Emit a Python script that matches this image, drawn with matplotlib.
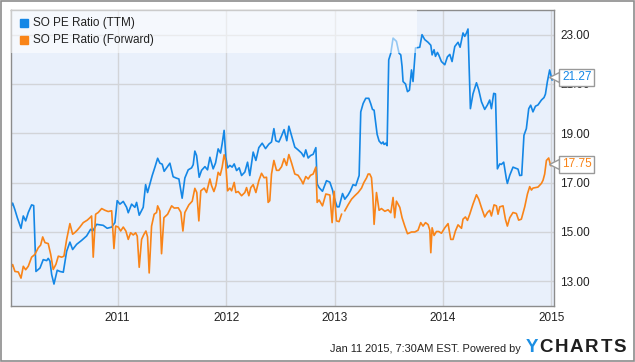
import matplotlib
matplotlib.use("Agg")
import matplotlib.pyplot as plt
import numpy as np
from matplotlib.patches import Rectangle
import matplotlib.transforms as mtransforms

plt.rcParams['font.family'] = ['Liberation Sans', 'DejaVu Sans']

# SO PE Ratio (TTM): decimal year, value
ttm_x = [2010.014, 2010.032, 2010.053, 2010.075, 2010.109, 2010.130, 2010.152, 2010.176, 2010.207, 2010.226,
         2010.247, 2010.284, 2010.314, 2010.346, 2010.360, 2010.376, 2010.392, 2010.413, 2010.443, 2010.468,
         2010.499, 2010.530, 2010.560, 2010.585, 2010.622, 2010.668, 2010.714, 2010.751, 2010.770, 2010.806,
         2010.837, 2010.867, 2010.904, 2010.945, 2010.975, 2010.996, 2011.021, 2011.052, 2011.083, 2011.098,
         2011.129, 2011.159, 2011.175, 2011.199, 2011.236, 2011.258, 2011.276, 2011.298, 2011.319, 2011.344,
         2011.369, 2011.390, 2011.411, 2011.429, 2011.452, 2011.482, 2011.512, 2011.544, 2011.565, 2011.595,
         2011.620, 2011.651, 2011.682, 2011.697, 2011.712, 2011.728, 2011.752, 2011.774, 2011.805, 2011.829,
         2011.851, 2011.881, 2011.903, 2011.927, 2011.949, 2011.964, 2011.982, 2011.998, 2012.014, 2012.035,
         2012.056, 2012.075, 2012.097, 2012.121, 2012.143, 2012.173, 2012.198, 2012.219, 2012.250, 2012.275,
         2012.302, 2012.333, 2012.364, 2012.394, 2012.419, 2012.441, 2012.459, 2012.487, 2012.512, 2012.535,
         2012.560, 2012.579, 2012.604, 2012.634, 2012.664, 2012.696, 2012.717, 2012.735, 2012.757, 2012.779,
         2012.803, 2012.828, 2012.840, 2012.858, 2012.889, 2012.926, 2012.957, 2012.982, 2012.996, 2013.024,
         2013.042, 2013.074, 2013.095, 2013.125, 2013.147, 2013.171, 2013.196, 2013.227, 2013.242, 2013.264,
         2013.288, 2013.316, 2013.334, 2013.350, 2013.365, 2013.393, 2013.411, 2013.433, 2013.448, 2013.457,
         2013.473, 2013.485, 2013.500, 2013.519, 2013.540, 2013.571, 2013.595, 2013.611, 2013.623, 2013.632,
         2013.655, 2013.673, 2013.691, 2013.710, 2013.724, 2013.747, 2013.786, 2013.807, 2013.832, 2013.863,
         2013.888, 2013.900, 2013.918, 2013.931, 2013.949, 2013.961, 2013.986, 2014.017, 2014.041, 2014.063,
         2014.084, 2014.109, 2014.139, 2014.158, 2014.185, 2014.201, 2014.217, 2014.231, 2014.253, 2014.277,
         2014.309, 2014.330, 2014.355, 2014.385, 2014.410, 2014.431, 2014.447, 2014.468, 2014.484, 2014.502,
         2014.524, 2014.539, 2014.560, 2014.585, 2014.594, 2014.616, 2014.646, 2014.662, 2014.692, 2014.708,
         2014.726, 2014.747, 2014.769, 2014.791, 2014.809, 2014.830, 2014.853, 2014.876, 2014.908, 2014.932,
         2014.945, 2014.963, 2014.984, 2015.006, 2015.024]
ttm_pe = [16.00, 16.17, 15.90, 15.58, 15.15, 15.65, 15.45, 15.79, 16.10, 16.07,
          13.40, 13.54, 13.88, 13.84, 13.93, 13.82, 13.27, 12.89, 13.45, 13.40,
          13.37, 14.22, 14.59, 14.29, 14.50, 14.66, 14.84, 15.11, 15.04, 15.31,
          15.29, 15.27, 15.15, 15.20, 15.38, 16.27, 16.13, 16.24, 16.00, 15.78,
          16.13, 16.00, 16.20, 15.68, 16.00, 16.92, 16.60, 16.95, 17.29, 17.63,
          17.99, 17.79, 17.75, 17.46, 17.60, 17.79, 17.24, 17.18, 17.15, 16.37,
          17.19, 17.52, 17.60, 17.73, 18.28, 18.10, 17.22, 17.50, 17.65, 17.52,
          18.03, 17.56, 17.80, 18.37, 18.20, 18.58, 19.12, 18.03, 17.60, 17.70,
          17.63, 17.76, 17.49, 17.60, 17.29, 17.43, 17.83, 17.29, 18.24, 17.90,
          18.42, 18.60, 18.38, 18.56, 18.65, 19.19, 18.70, 18.65, 18.90, 19.15,
          18.70, 19.29, 18.90, 18.44, 18.33, 18.20, 18.05, 18.33, 18.00, 18.10,
          18.15, 18.42, 16.95, 16.80, 16.65, 17.08, 17.02, 16.70, 16.40, 16.02,
          16.02, 16.56, 16.33, 16.50, 16.67, 16.92, 16.88, 17.29, 19.87, 20.21,
          20.42, 20.42, 20.20, 19.97, 19.94, 18.96, 18.69, 18.58, 18.65, 18.55,
          18.60, 18.50, 21.98, 22.25, 22.86, 22.73, 22.25, 22.18, 21.71, 21.10,
          21.00, 20.69, 20.75, 21.57, 21.10, 22.46, 22.49, 23.00, 22.80, 22.69,
          22.57, 22.18, 22.39, 22.12, 22.28, 22.18, 21.91, 21.78, 22.10, 22.20,
          21.91, 22.52, 22.69, 22.49, 23.07, 22.93, 23.07, 23.23, 20.00, 20.60,
          21.05, 20.76, 20.28, 19.97, 20.15, 20.35, 20.00, 20.62, 20.60, 17.56,
          17.76, 17.74, 17.83, 17.15, 16.97, 17.30, 17.63, 17.60, 17.55, 17.29,
          17.30, 18.92, 19.19, 20.00, 20.14, 19.87, 20.10, 20.15, 20.35, 20.45,
          20.59, 21.10, 21.57, 21.16, 21.27]

# SO PE Ratio (Forward): decimal year, value (nan = missing data)
fwd_x = [2010.014, 2010.032, 2010.053, 2010.084, 2010.109, 2010.130, 2010.152, 2010.176, 2010.207, 2010.237,
         2010.268, 2010.290, 2010.309, 2010.330, 2010.360, 2010.383, 2010.406, 2010.431, 2010.453, 2010.484,
         2010.505, 2010.530, 2010.560, 2010.585, 2010.606, 2010.627, 2010.652, 2010.683, 2010.720, 2010.745,
         2010.760, 2010.775, 2010.797, 2010.821, 2010.853, 2010.883, 2010.913, 2010.945, 2010.966, 2010.982,
         2011.006, 2011.028, 2011.052, 2011.076, 2011.098, 2011.120, 2011.144, 2011.166, 2011.181, 2011.199,
         2011.221, 2011.242, 2011.261, 2011.276, 2011.291, 2011.313, 2011.337, 2011.359, 2011.369, 2011.390,
         2011.405, 2011.427, 2011.461, 2011.498, 2011.522, 2011.559, 2011.583, 2011.602, 2011.620, 2011.657,
         2011.688, 2011.712, 2011.730, 2011.749, 2011.767, 2011.798, 2011.820, 2011.851, 2011.866, 2011.888,
         2011.906, 2011.927, 2011.946, 2011.964, 2011.982, 2011.995, 2012.014, 2012.035, 2012.051, 2012.075,
         2012.090, 2012.112, 2012.143, 2012.173, 2012.189, 2012.210, 2012.228, 2012.250, 2012.275, 2012.302,
         2012.327, 2012.351, 2012.373, 2012.388, 2012.403, 2012.419, 2012.441, 2012.465, 2012.487, 2012.512,
         2012.535, 2012.558, 2012.579, 2012.604, 2012.634, 2012.664, 2012.696, 2012.710, 2012.735, 2012.757,
         2012.779, 2012.803, 2012.828, 2012.840, 2012.858, 2012.889, 2012.920, 2012.957, 2012.978, 2012.996,
         2013.018, 2013.042, 2013.065, 2013.080, 2013.095, 2013.125, 2013.157, 2013.187, 2013.218, 2013.249,
         2013.270, 2013.295, 2013.310, 2013.325, 2013.341, 2013.353, 2013.365, 2013.387, 2013.411, 2013.433,
         2013.464, 2013.494, 2013.519, 2013.540, 2013.555, 2013.571, 2013.602, 2013.623, 2013.648, 2013.673,
         2013.710, 2013.740, 2013.770, 2013.795, 2013.816, 2013.839, 2013.863, 2013.879, 2013.888, 2013.900,
         2013.918, 2013.940, 2013.961, 2013.986, 2014.017, 2014.047, 2014.072, 2014.093, 2014.115, 2014.139,
         2014.171, 2014.185, 2014.207, 2014.226, 2014.247, 2014.277, 2014.309, 2014.330, 2014.355, 2014.385,
         2014.410, 2014.431, 2014.447, 2014.471, 2014.493, 2014.508, 2014.524, 2014.554, 2014.576, 2014.594,
         2014.616, 2014.646, 2014.677, 2014.698, 2014.723, 2014.754, 2014.779, 2014.800, 2014.816, 2014.830,
         2014.853, 2014.876, 2014.908, 2014.923, 2014.938, 2014.954, 2014.975, 2014.993, 2015.024]
fwd_pe = [13.54, 13.68, 13.40, 13.38, 13.13, 13.61, 13.47, 13.61, 13.98, 14.09,
          14.36, 14.47, 14.80, 14.57, 14.53, 14.09, 13.48, 13.69, 14.02, 13.98,
          14.02, 14.70, 15.34, 14.91, 14.98, 15.07, 15.20, 15.38, 15.48, 15.58,
          15.65, 13.98, 15.72, 15.79, 15.95, 15.88, 15.83, 15.86, 14.33, 15.24,
          15.20, 15.04, 15.20, 15.04, 14.70, 14.97, 14.88, 14.97, 14.83, 13.57,
          14.70, 14.90, 15.04, 14.80, 13.34, 15.24, 15.72, 15.79, 16.06, 15.85,
          14.12, 15.58, 15.72, 16.06, 15.97, 15.98, 15.80, 15.04, 15.79, 16.10,
          16.25, 16.77, 16.60, 15.45, 16.67, 16.78, 16.60, 17.15, 16.88, 16.64,
          16.88, 17.42, 17.30, 17.63, 18.13, 17.90, 16.67, 16.78, 16.67, 17.01,
          16.60, 16.64, 16.47, 16.60, 16.80, 16.47, 16.80, 16.92, 16.60, 17.08,
          17.38, 17.20, 17.22, 16.20, 16.27, 17.35, 17.90, 17.50, 17.50, 17.65,
          17.97, 17.70, 18.14, 17.80, 17.35, 17.30, 17.08, 16.95, 17.25, 17.15,
          17.30, 17.35, 17.63, 16.20, 16.30, 16.06, 16.54, 16.50, 15.38, 16.65,
          15.45, 15.42, 15.72, np.nan, 15.86, 16.10, 16.33, 16.47, 16.60, 16.78,
          17.00, 17.19, 17.35, 17.35, 17.20, 16.50, 15.31, 16.60, 15.88, 15.95,
          15.84, 15.90, 15.78, 16.40, 15.58, 16.25, 16.00, 15.58, 15.24, 14.93,
          15.00, 15.00, 15.07, 15.38, 15.24, 15.38, 15.30, 15.07, 14.16, 15.17,
          14.86, 15.02, 15.02, 14.95, 15.17, 15.34, 14.70, 14.70, 15.04, 15.29,
          15.15, 15.52, 15.61, 15.47, 15.72, 16.13, 16.51, 16.33, 15.99, 15.61,
          15.79, 15.88, 15.65, 16.10, 16.06, 15.72, 16.02, 16.06, 15.52, 15.24,
          15.58, 15.79, 15.75, 15.48, 15.52, 16.02, 16.54, 16.84, 16.70, 16.78,
          16.80, 16.82, 16.97, 17.10, 17.35, 17.90, 18.00, 17.69, 17.75]

year_ticks = [2011, 2012, 2013, 2014, 2015]
pe_ticks = [13, 15, 17, 19, 21, 23]
series_names = ["SO PE Ratio (TTM)", "SO PE Ratio (Forward)"]

blue = '#1487e6'
orange = '#f98418'

fig = plt.figure(figsize=(6.35, 3.62), dpi=100)
ax = fig.add_axes([0.01685, 0.1547, 0.85559, 0.81768])
ax.set_facecolor('#e9f0fb')

ax.plot(ttm_x, ttm_pe, color=blue, lw=1.2, zorder=2)
ax.plot(fwd_x, fwd_pe, color=orange, lw=1.2, zorder=2)

ax.set_xlim(ttm_x[0], ttm_x[-1])
ax.set_ylim(12, 24)
ax.set_xticks(year_ticks)
ax.set_xticklabels([str(y) for y in year_ticks])
ax.set_yticks(pe_ticks)
ax.set_yticklabels([f"{v:.2f}" for v in pe_ticks])
ax.yaxis.tick_right()
ax.tick_params(axis='both', length=0, labelsize=8.5, labelcolor='#222222')
ax.tick_params(axis='y', pad=4.3)
ax.tick_params(axis='x', pad=4.5)
ax.grid(True, color='#d2d4d8', lw=1)
ax.set_axisbelow(True)
for s in ax.spines.values():
    s.set_color('#8c8c8c')
    s.set_linewidth(1)

# translucent legend panel on top of the lines
ax.add_patch(Rectangle((0, 0.855), 0.748, 0.145, transform=ax.transAxes,
                       facecolor='white', alpha=0.55, edgecolor='none', zorder=3))
for i, (name, col) in enumerate(zip(series_names, [blue, orange])):
    yy = 0.956 - i * 0.057
    ax.plot([0.0245], [yy], marker='s', ms=5.2, color=col, transform=ax.transAxes,
            clip_on=False, zorder=4)
    ax.text(0.041, yy, name, transform=ax.transAxes, fontsize=8.5, color='#222222',
            va='center', ha='left', zorder=4)

# last value flags at the right edge
trans = mtransforms.blended_transform_factory(ax.transAxes, ax.transData)
for vals, col in [(ttm_pe, blue), (fwd_pe, orange)]:
    last = vals[-1]
    ax.plot([1.0], [last], marker='<', ms=7, mfc='white', mec='#999999', mew=1,
            transform=trans, clip_on=False, zorder=5)
    ax.annotate(f"{last:.2f}", xy=(1.0, last), xycoords=trans,
                xytext=(8, 0), textcoords='offset pixels', fontsize=8.5, color=col,
                va='center', ha='left', zorder=6, annotation_clip=False,
                bbox=dict(boxstyle='square,pad=0.22', fc='white', ec='#999999', lw=1))

# footer
fig.text(330 / 635, 1 - 349 / 362, "Jan 11 2015, 7:30AM EST. Powered by", fontsize=7.9,
         color='#222222', ha='left', va='center')
logo_letters = "YCHARTS"
logo_centers = [531.5, 546, 561, 576.5, 592, 606.5, 619.5]
for ch, cx in zip(logo_letters, logo_centers):
    fig.text(cx / 635, 1 - 348 / 362, ch, fontsize=13.5, fontweight='heavy',
             color='#1c8fe3' if ch == 'Y' else '#1f1f1f', ha='center', va='center')

# outer frame
fig.patches.append(Rectangle((0.001, 0.002), 0.997, 0.996, transform=fig.transFigure,
                             fill=False, edgecolor='#8c8c8c', lw=1.2))

fig.savefig('out.png', dpi=100)
